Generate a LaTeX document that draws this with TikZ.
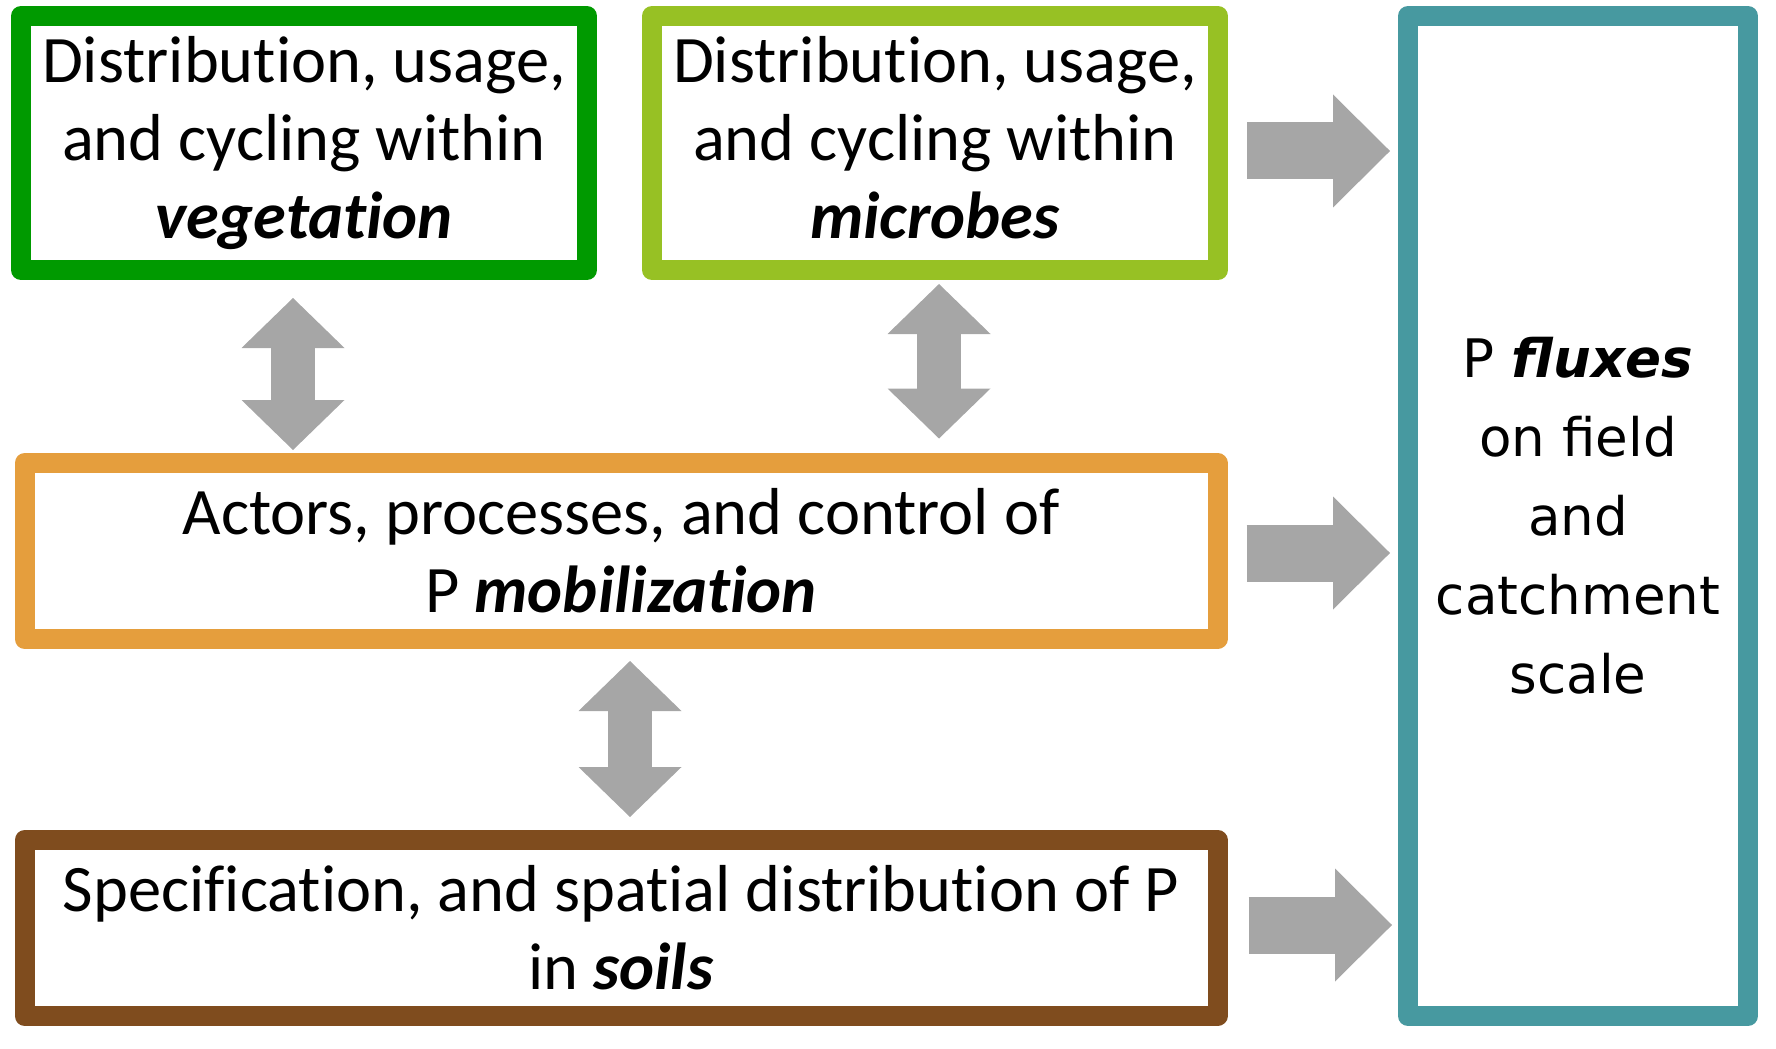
\documentclass[tikz,border=0pt]{standalone}
\usepackage{fontspec}
\setmainfont{Carlito}[Ligatures=CommonOff]
\newfontfamily\fluxfont{DejaVu Sans}
\usetikzlibrary{arrows.meta, positioning}
\definecolor{veggreen}{HTML}{009A00}
\definecolor{microlime}{HTML}{97C124}
\definecolor{moborange}{HTML}{E59E3D}
\definecolor{soilbrown}{HTML}{7F4C1E}
\definecolor{fluxteal}{HTML}{4799A0}
\definecolor{arrowgray}{HTML}{A6A6A6}
\tikzset{
	boxnode/.style={
			draw,
			line width=0.2cm,
			line join=round,
			fill=white,
			align=center,
			inner sep=0pt,
			font=\fontsize{18.9}{22.2}\selectfont
		},
	fluxnode/.style={
			boxnode,
			draw=fluxteal,
			font=\fluxfont\fontsize{15.1}{22.5}\selectfont
		},
	vertarrow/.style={
			draw=arrowgray,
			line width=0.44cm,
			{Triangle[length=0.5cm, width=1.03cm, line width=0pt]}-{Triangle[length=0.5cm, width=1.03cm, line width=0pt]}
		},
	horarrow/.style={
			draw=arrowgray,
			line width=0.57cm,
			-{Triangle[length=0.57cm, width=1.13cm, line width=0pt]}
		}
}
\begin{document}
\begin{tikzpicture}
\useasboundingbox (0,0) rectangle (17.76,-10.48);
\node[boxnode, draw=veggreen, minimum width=5.66cm, minimum height=2.54cm] (veg) at (3.04,-1.43)
  {Distribution, usage,\\ and cycling within\\ \textbf{\textit{vegetation}}};
\node[boxnode, draw=microlime, minimum width=5.66cm, minimum height=2.54cm] (mic) at (9.35,-1.43)
  {Distribution, usage,\\ and cycling within\\ \textbf{\textit{microbes}}\vphantom{g}};
\node[boxnode, draw=moborange, minimum width=11.93cm, minimum height=1.76cm] (mob) at (6.21,-5.51)
  {Actors, processes, and control of\\ P \textbf{\textit{mobilization}}};
\node[boxnode, draw=soilbrown, minimum width=11.93cm, minimum height=1.76cm] (soil) at (6.21,-9.28)
  {Specification, and spatial distribution of P\\ in \textbf{\textit{soils}}};
\node[fluxnode, minimum width=3.40cm, minimum height=10cm] (flux) at (15.78,-5.16)
  {P \textbf{\textit{fluxes}}\\ on field\\ and\\ catchment\\ scale};

% exchange between the pools
\draw[vertarrow, shorten <=0.18cm, shorten >=0.03cm] ([xshift=-0.11cm]veg.south) -- ([xshift=-0.11cm]veg.south |- mob.north);
\draw[vertarrow, shorten <=0.04cm, shorten >=0.145cm] ([xshift=0.04cm]mic.south) -- ([xshift=0.04cm]mic.south |- mob.north);
\draw[vertarrow, shorten <=0.12cm, shorten >=0.13cm] ([xshift=0.09cm]mob.south) -- ([xshift=0.09cm]mob.south |- soil.north);

% contributions to the fluxes
\draw[horarrow, shorten <=0.19cm, shorten >=0.08cm] ([yshift=-0.08cm]mic.east) -- ([yshift=-0.08cm]mic.east -| flux.west);
\draw[horarrow, shorten <=0.19cm, shorten >=0.08cm] ([yshift=-0.02cm]mob.east) -- ([yshift=-0.02cm]mob.east -| flux.west);
\draw[horarrow, shorten <=0.21cm, shorten >=0.06cm] ([yshift=0.03cm]soil.east) -- ([yshift=0.03cm]soil.east -| flux.west);
\end{tikzpicture}
\end{document}
